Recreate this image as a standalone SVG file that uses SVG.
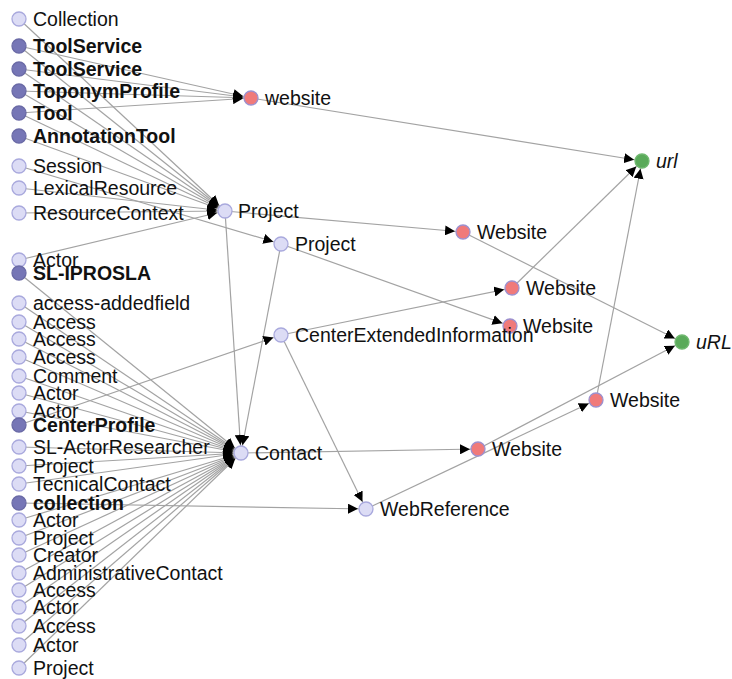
<svg xmlns="http://www.w3.org/2000/svg" width="732" height="679" viewBox="0 0 732 679">
  <style>
    .bg { fill: #ffffff; }
    .link { stroke: #a3a3a3; stroke-width: 1.2; fill: none; marker-end: url(#arrow); }
    .node circle { stroke-width: 1.3; }
    .light circle { fill: #dcdcf5; stroke: #a9a9dd; }
    .dark circle { fill: #7676b6; stroke: #6a6aa6; }
    .red circle { fill: #f07a7a; stroke: #9c90cf; }
    .green circle { fill: #5aaa5a; stroke: #6fb86f; }
    text { font-family: "Liberation Sans", Helvetica, Arial, sans-serif; font-size: 19.5px; fill: #111111; }
    .dark text { font-weight: bold; }
    .green text { font-style: italic; }
  </style>
  <defs>
    <marker id="arrow" viewBox="0 -5 10 10" refX="18" refY="0" markerWidth="10" markerHeight="10" markerUnits="userSpaceOnUse" orient="auto">
      <path d="M0,-5L10,0L0,5Z" fill="#000000"/>
    </marker>
  </defs>
  <rect class="bg" x="0" y="0" width="732" height="679"/>

  <g id="links">
    <!-- profiles to website -->
    <line class="link" x1="19" y1="46" x2="251" y2="98"/>
    <line class="link" x1="19" y1="69" x2="251" y2="98"/>
    <line class="link" x1="19" y1="91" x2="251" y2="98"/>
    <line class="link" x1="19" y1="113" x2="251" y2="98"/>
    <!-- into Project (upper) -->
    <line class="link" x1="19" y1="19" x2="225" y2="211"/>
    <line class="link" x1="19" y1="46" x2="225" y2="211"/>
    <line class="link" x1="19" y1="69" x2="225" y2="211"/>
    <line class="link" x1="19" y1="91" x2="225" y2="211"/>
    <line class="link" x1="19" y1="113" x2="225" y2="211"/>
    <line class="link" x1="19" y1="136" x2="225" y2="211"/>
    <line class="link" x1="19" y1="188" x2="225" y2="211"/>
    <line class="link" x1="19" y1="213" x2="225" y2="211"/>
    <line class="link" x1="19" y1="260" x2="225" y2="211"/>
    <!-- into Project (lower) -->
    <line class="link" x1="19" y1="166" x2="281" y2="244"/>
    <!-- into Contact -->
    <line class="link" x1="19" y1="273" x2="241" y2="453"/>
    <line class="link" x1="19" y1="303" x2="241" y2="453"/>
    <line class="link" x1="19" y1="322" x2="241" y2="453"/>
    <line class="link" x1="19" y1="339" x2="241" y2="453"/>
    <line class="link" x1="19" y1="357" x2="241" y2="453"/>
    <line class="link" x1="19" y1="376" x2="241" y2="453"/>
    <line class="link" x1="19" y1="393" x2="241" y2="453"/>
    <line class="link" x1="19" y1="411" x2="241" y2="453"/>
    <line class="link" x1="19" y1="447" x2="241" y2="453"/>
    <line class="link" x1="19" y1="466" x2="241" y2="453"/>
    <line class="link" x1="19" y1="484" x2="241" y2="453"/>
    <line class="link" x1="19" y1="520" x2="241" y2="453"/>
    <line class="link" x1="19" y1="538" x2="241" y2="453"/>
    <line class="link" x1="19" y1="555" x2="241" y2="453"/>
    <line class="link" x1="19" y1="573" x2="241" y2="453"/>
    <line class="link" x1="19" y1="590" x2="241" y2="453"/>
    <line class="link" x1="19" y1="607" x2="241" y2="453"/>
    <line class="link" x1="19" y1="626" x2="241" y2="453"/>
    <line class="link" x1="19" y1="645" x2="241" y2="453"/>
    <line class="link" x1="19" y1="668" x2="241" y2="453"/>
    <line class="link" x1="225" y1="211" x2="241" y2="453"/>
    <line class="link" x1="281" y1="244" x2="241" y2="453"/>
    <!-- other profile links -->
    <line class="link" x1="19" y1="425" x2="281" y2="335"/>
    <line class="link" x1="19" y1="503" x2="366" y2="509"/>
    <!-- middle layer -->
    <line class="link" x1="225" y1="211" x2="463" y2="232"/>
    <line class="link" x1="281" y1="244" x2="510" y2="326"/>
    <line class="link" x1="281" y1="335" x2="512" y2="288"/>
    <line class="link" x1="281" y1="335" x2="366" y2="509"/>
    <line class="link" x1="241" y1="453" x2="478" y2="449"/>
    <line class="link" x1="366" y1="509" x2="596" y2="400"/>
    <!-- websites to urls -->
    <line class="link" x1="251" y1="98" x2="642" y2="161"/>
    <line class="link" x1="512" y1="288" x2="642" y2="161"/>
    <line class="link" x1="596" y1="400" x2="642" y2="161"/>
    <line class="link" x1="463" y1="232" x2="682" y2="342"/>
    <line class="link" x1="478" y1="449" x2="682" y2="342"/>
  </g>

  <g id="nodes">
    <g id="n-collection-top" class="node light"><circle cx="19" cy="19" r="7"/><text x="33" y="26">Collection</text></g>
    <g id="n-toolservice-1" class="node dark"><circle cx="19" cy="46" r="7"/><text x="33" y="53">ToolService</text></g>
    <g id="n-toolservice-2" class="node dark"><circle cx="19" cy="69" r="7"/><text x="33" y="76">ToolService</text></g>
    <g id="n-toponymprofile" class="node dark"><circle cx="19" cy="91" r="7"/><text x="33" y="98">ToponymProfile</text></g>
    <g id="n-tool" class="node dark"><circle cx="19" cy="113" r="7"/><text x="33" y="120">Tool</text></g>
    <g id="n-annotationtool" class="node dark"><circle cx="19" cy="136" r="7"/><text x="33" y="143">AnnotationTool</text></g>
    <g id="n-session" class="node light"><circle cx="19" cy="166" r="7"/><text x="33" y="173">Session</text></g>
    <g id="n-lexicalresource" class="node light"><circle cx="19" cy="188" r="7"/><text x="33" y="195">LexicalResource</text></g>
    <g id="n-resourcecontext" class="node light"><circle cx="19" cy="213" r="7"/><text x="33" y="220">ResourceContext</text></g>
    <g id="n-actor-1" class="node light"><circle cx="19" cy="260" r="7"/><text x="33" y="267">Actor</text></g>
    <g id="n-sl-iprosla" class="node dark"><circle cx="19" cy="273" r="7"/><text x="33" y="280">SL-IPROSLA</text></g>
    <g id="n-access-addedfield" class="node light"><circle cx="19" cy="303" r="7"/><text x="33" y="310">access-addedfield</text></g>
    <g id="n-access-1" class="node light"><circle cx="19" cy="322" r="7"/><text x="33" y="329">Access</text></g>
    <g id="n-access-2" class="node light"><circle cx="19" cy="339" r="7"/><text x="33" y="346">Access</text></g>
    <g id="n-access-3" class="node light"><circle cx="19" cy="357" r="7"/><text x="33" y="364">Access</text></g>
    <g id="n-comment" class="node light"><circle cx="19" cy="376" r="7"/><text x="33" y="383">Comment</text></g>
    <g id="n-actor-2" class="node light"><circle cx="19" cy="393" r="7"/><text x="33" y="400">Actor</text></g>
    <g id="n-actor-3" class="node light"><circle cx="19" cy="411" r="7"/><text x="33" y="418">Actor</text></g>
    <g id="n-centerprofile" class="node dark"><circle cx="19" cy="425" r="7"/><text x="33" y="432">CenterProfile</text></g>
    <g id="n-sl-actorresearcher" class="node light"><circle cx="19" cy="447" r="7"/><text x="33" y="454">SL-ActorResearcher</text></g>
    <g id="n-project-1" class="node light"><circle cx="19" cy="466" r="7"/><text x="33" y="473">Project</text></g>
    <g id="n-tecnicalcontact" class="node light"><circle cx="19" cy="484" r="7"/><text x="33" y="491">TecnicalContact</text></g>
    <g id="n-collection-low" class="node dark"><circle cx="19" cy="503" r="7"/><text x="33" y="510">collection</text></g>
    <g id="n-actor-4" class="node light"><circle cx="19" cy="520" r="7"/><text x="33" y="527">Actor</text></g>
    <g id="n-project-2" class="node light"><circle cx="19" cy="538" r="7"/><text x="33" y="545">Project</text></g>
    <g id="n-creator" class="node light"><circle cx="19" cy="555" r="7"/><text x="33" y="562">Creator</text></g>
    <g id="n-administrativecontact" class="node light"><circle cx="19" cy="573" r="7"/><text x="33" y="580">AdministrativeContact</text></g>
    <g id="n-access-4" class="node light"><circle cx="19" cy="590" r="7"/><text x="33" y="597">Access</text></g>
    <g id="n-actor-5" class="node light"><circle cx="19" cy="607" r="7"/><text x="33" y="614">Actor</text></g>
    <g id="n-access-5" class="node light"><circle cx="19" cy="626" r="7"/><text x="33" y="633">Access</text></g>
    <g id="n-actor-6" class="node light"><circle cx="19" cy="645" r="7"/><text x="33" y="652">Actor</text></g>
    <g id="n-project-3" class="node light"><circle cx="19" cy="668" r="7"/><text x="33" y="675">Project</text></g>

    <g id="n-website-top" class="node red"><circle cx="251" cy="98" r="7"/><text x="265" y="105">website</text></g>
    <g id="n-url" class="node green"><circle cx="642" cy="161" r="7"/><text x="656" y="168">url</text></g>
    <g id="n-project-mid-1" class="node light"><circle cx="225" cy="211" r="7"/><text x="238" y="218">Project</text></g>
    <g id="n-project-mid-2" class="node light"><circle cx="281" cy="244" r="7"/><text x="295" y="251">Project</text></g>
    <g id="n-website-a" class="node red"><circle cx="463" cy="232" r="7"/><text x="477" y="239">Website</text></g>
    <g id="n-website-b" class="node red"><circle cx="512" cy="288" r="7"/><text x="526" y="295">Website</text></g>
    <g id="n-website-c" class="node red"><circle cx="510" cy="326" r="7"/><text x="523" y="333">Website</text></g>
    <g id="n-centerextendedinformation" class="node light"><circle cx="281" cy="335" r="7"/><text x="295" y="342">CenterExtendedInformation</text></g>
    <g id="n-url-upper" class="node green"><circle cx="682" cy="342" r="7"/><text x="696" y="349">uRL</text></g>
    <g id="n-website-d" class="node red"><circle cx="596" cy="400" r="7"/><text x="610" y="407">Website</text></g>
    <g id="n-contact" class="node light"><circle cx="241" cy="453" r="7"/><text x="255" y="460">Contact</text></g>
    <g id="n-website-e" class="node red"><circle cx="478" cy="449" r="7"/><text x="492" y="456">Website</text></g>
    <g id="n-webreference" class="node light"><circle cx="366" cy="509" r="7"/><text x="380" y="516">WebReference</text></g>
  </g>
</svg>
